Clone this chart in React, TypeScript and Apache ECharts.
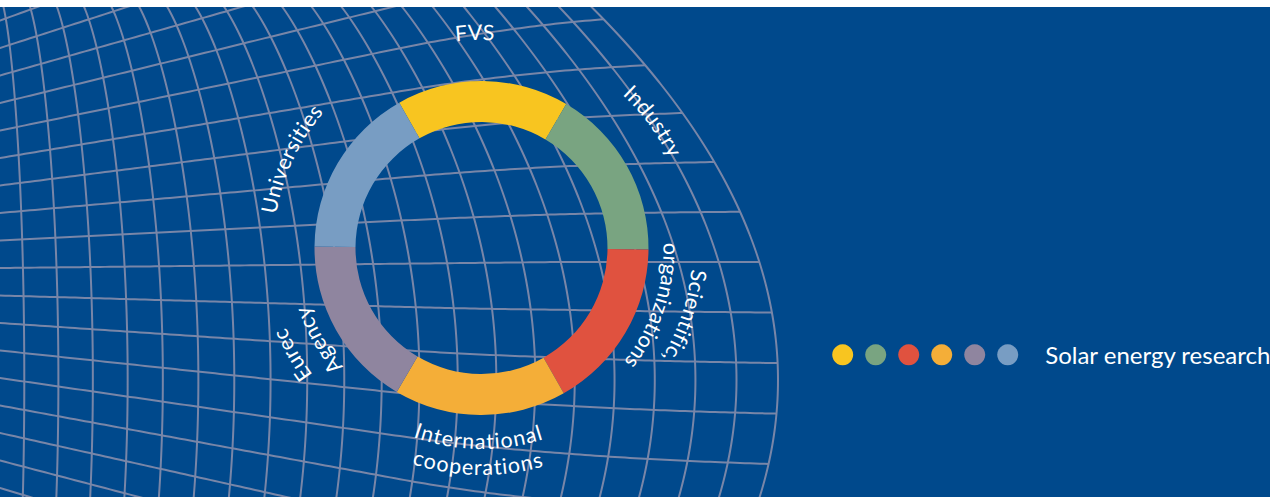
import React, { useEffect, useRef } from 'react';
import * as echarts from 'echarts';

// ---------- data ----------
const categories = [
  'FVS',
  'Industry',
  'Scientific,\norganizations',
  'International\ncooperations',
  'Eurec\nAgency',
  'Universities',
];
const shares = [1, 1, 1, 1, 1, 1];
const colors = ['#F8C520', '#79A481', '#E0523F', '#F4AE38', '#8F859F', '#789DC3'];
const legendTitle = 'Solar energy research';

// ---------- layout ----------
const TOP = 7;
const CW = 1270;
const CH = 490;
const CX = 481.5;
const CY = 248 - TOP;
const R_IN = 126;
const R_OUT = 167;
const START = 119.5;
const labelShift = [2.3, 7, 12, -0.5, 0, 5.5];
const FONT = 'Lato';
const FS = 21.5;
const LEGEND_FS = 24;
const BG = '#00498C';
const MESH = '#7886A8';

let measureCtx: CanvasRenderingContext2D | null = null;
function charWidth(ch: string) {
  if (!measureCtx) {
    const c = document.createElement('canvas');
    measureCtx = c.getContext('2d');
  }
  measureCtx!.font = `${FS}px ${FONT}`;
  return measureCtx!.measureText(ch).width + 0.6;
}

function renderRingLabel(params: any) {
  const i = params.dataIndex;
  const total = shares.reduce((a, b) => a + b, 0);
  let before = 0;
  for (let j = 0; j < i; j++) before += shares[j];
  const midDeg = START - ((before + shares[i] / 2) / total) * 360 + labelShift[i];
  const theta = (midDeg * Math.PI) / 180;
  const norm = ((midDeg % 360) + 360) % 360;
  const flip = norm > 225 && norm < 315;
  const lines = categories[i].split('\n');
  const radii = lines.length === 1 ? [216] : flip ? [193, 219] : [219, 190];
  const children: any[] = [];
  lines.forEach((line, li) => {
    const r = radii[li];
    const chars = Array.from(line);
    const widths = chars.map(charWidth);
    const totalW = widths.reduce((a, b) => a + b, 0);
    let acc = 0;
    chars.forEach((ch, ci) => {
      const off = acc + widths[ci] / 2 - totalW / 2;
      acc += widths[ci];
      const phi = flip ? theta + off / r : theta - off / r;
      children.push({
        type: 'text',
        x: CX + r * Math.cos(phi),
        y: CY - r * Math.sin(phi),
        rotation: flip ? phi + Math.PI / 2 : phi - Math.PI / 2,
        style: {
          text: ch,
          fill: '#ffffff',
          fontSize: FS,
          fontFamily: FONT,
          align: 'center',
          verticalAlign: 'middle',
        },
      });
    });
  });
  return { type: 'group', children };
}

// cubic Hermite helper for the mesh spacing profile
function hermite(x: number, x0: number, x1: number, p0: number, p1: number, d0: number, d1: number) {
  const h = x1 - x0;
  const t = (x - x0) / h;
  const t2 = t * t;
  const t3 = t2 * t;
  return (
    (2 * t3 - 3 * t2 + 1) * p0 +
    (t3 - 2 * t2 + t) * h * d0 +
    (-2 * t3 + 3 * t2) * p1 +
    (t3 - t2) * h * d1
  );
}

// decorative warped mesh (page coordinates, shifted by TOP)
function buildMesh() {
  const els: number[][][] = [];
  const yEq = 380;
  const DY_TOP = 373;
  const B = 392;
  const boundaryX = (y: number) => 778 - 0.00134 * (y - yEq) * (y - yEq);
  const curveC = (X: number) => Math.max(0.00005, 0.00134 - (778 - X) * 1.58e-6);
  const ell = (dy: number) => {
    const q = Math.min(1, (dy / B) * (dy / B));
    return (1 - Math.sqrt(1 - q)) / (1 - Math.sqrt(1 - (DY_TOP / B) * (DY_TOP / B)));
  };
  // vertical family
  let X = 778;
  let first = true;
  while (X > -80) {
    const offTop = curveC(X) * DY_TOP * DY_TOP;
    const w = first ? 0 : 0.9 * Math.min(1, Math.max(0, 1 - X / 600));
    const pts: number[][] = [];
    for (let y = -10; y <= 510; y += 5) {
      const dy = y - yEq;
      const quad = (dy / DY_TOP) * (dy / DY_TOP);
      const f = (1 - w) * quad + w * ell(dy);
      pts.push([X - offTop * f, y - TOP]);
    }
    els.push(pts);
    first = false;
    X -= 33.5 + (8 * X) / 778;
  }
  // horizontal family
  const s = (x: number) => {
    if (x <= 400) return 27.5 + 0.039 * x;
    if (x <= 770) return hermite(x, 400, 770, 43.1, 50.5, 0.039, 0.008);
    return 50.5 + 0.008 * (x - 770);
  };
  const yc = (x: number) => 268 - 6 * Math.min(1, Math.max(0, x / 560));
  for (let k = -20; k <= 16; k++) {
    const fy = (x: number) => yc(x) + k * s(x);
    const pts: number[][] = [];
    let x = -30;
    let last = -30;
    while (x < 800) {
      const y = fy(x);
      if (x > boundaryX(y)) break;
      pts.push([x, y - TOP]);
      last = x;
      x += 5;
    }
    let lo = last;
    let hi = last + 5;
    for (let it = 0; it < 20; it++) {
      const m = (lo + hi) / 2;
      if (m > boundaryX(fy(m))) hi = m;
      else lo = m;
    }
    pts.push([lo, fy(lo) - TOP]);
    if (pts.length > 1) els.push(pts);
  }
  return els.map((points) => ({
    type: 'polyline',
    silent: true,
    z: 0,
    shape: { points },
    style: { stroke: MESH, lineWidth: 2, fill: null },
  }));
}

export default function App() {
  const ref = useRef<HTMLDivElement>(null);
  useEffect(() => {
    if (!ref.current) return;
    const chart = echarts.init(ref.current, undefined, { renderer: 'svg' });
    const lastName = categories[categories.length - 1];
    chart.setOption({
      animation: false,
      backgroundColor: BG,
      graphic: { elements: buildMesh() },
      legend: {
        left: 832.2,
        top: 353.3 - TOP - 10.5,
        width: 480,
        padding: 0,
        orient: 'horizontal',
        icon: 'circle',
        itemWidth: 21,
        itemHeight: 21,
        itemGap: 7,
        selectedMode: false,
        data: categories,
        formatter: (name: string) => (name === lastName ? `{t|${legendTitle}}` : ''),
        textStyle: {
          color: '#ffffff',
          fontFamily: FONT,
          fontSize: LEGEND_FS,
          lineHeight: 21,
          rich: {
            t: {
              color: '#ffffff',
              fontFamily: FONT,
              fontSize: LEGEND_FS,
              lineHeight: 21,
              padding: [0, 0, 0, 22],
            },
          },
        },
      },
      series: [
        {
          type: 'pie',
          center: [CX, CY],
          radius: [R_IN, R_OUT],
          startAngle: START,
          clockwise: true,
          silent: true,
          label: { show: false },
          labelLine: { show: false },
          emphasis: { disabled: true },
          data: categories.map((name, i) => ({
            name,
            value: shares[i],
            itemStyle: { color: colors[i] },
          })),
        },
        {
          type: 'custom',
          coordinateSystem: 'none',
          silent: true,
          z: 5,
          data: categories.map((_, i) => [i]),
          renderItem: (params: any) => renderRingLabel(params),
        },
      ],
    });
    return () => chart.dispose();
  }, []);
  return (
    <div
      ref={ref}
      style={{ position: 'absolute', left: 0, top: TOP, width: CW, height: CH }}
    />
  );
}
